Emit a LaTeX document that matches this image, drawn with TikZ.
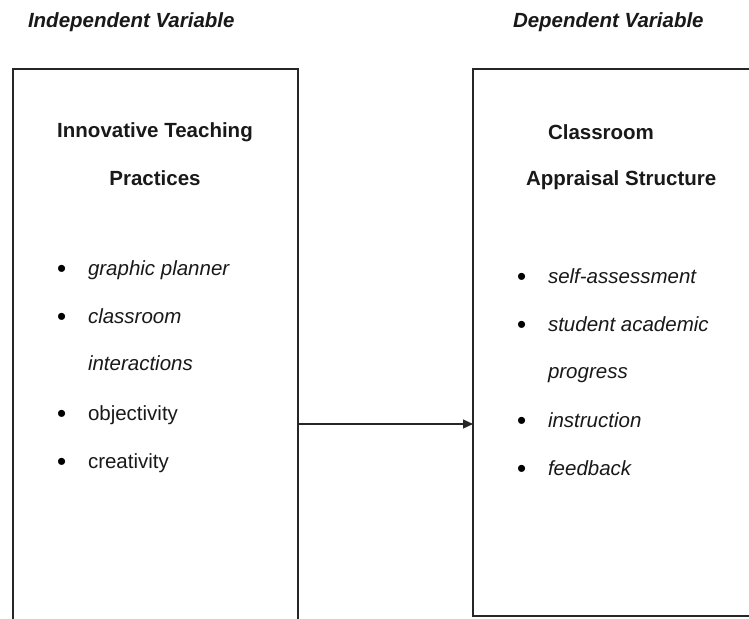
\documentclass[tikz,border=0pt]{standalone}
\usepackage{fontspec}
\setmainfont{Liberation Sans}
\usetikzlibrary{arrows.meta}
\begin{document}
\begin{tikzpicture}[x=1pt,y=-1pt,
  every node/.style={inner sep=0pt,outer sep=0pt,text=black!90,font=\fontsize{20.5}{24}\selectfont},
  frame/.style={draw=black!85,line width=1.4pt},
  hdr/.style={anchor=base west,font=\fontsize{20.5}{24}\selectfont\bfseries\itshape},
  ttl/.style={anchor=base,font=\fontsize{20.5}{24}\selectfont\bfseries},
  ttlw/.style={anchor=base west,font=\fontsize{20.5}{24}\selectfont\bfseries},
  item/.style={anchor=base west},
  itemi/.style={anchor=base west,font=\fontsize{20.5}{24}\selectfont\itshape},
  bul/.style={anchor=base west,text=black,font=\fontsize{26}{28}\selectfont},
  conn/.style={draw=black!85,line width=1.2pt,-{Triangle[length=10pt,width=9pt]}}]
\useasboundingbox (0,0) rectangle (749,618);
\fill[white] (0,0) rectangle (749,618);
% boxes
\draw[frame] (13,640) -- (13,69) -- (298,69) -- (298,640);
\draw[frame] (760,69) -- (473,69) -- (473,616) -- (760,616);
\coordinate (L) at (298,424);
\coordinate (R) at (473,424);
\draw[conn] (L) -- (R);
% headers
\node[hdr] (ih) at (28,28) {Independent Variable};
\node[hdr] (dh) at (513,28) {Dependent Variable};
% titles
\node[ttl] (t1) at (155,137) {Innovative Teaching};
\node[ttl] (t2) at (155,185) {Practices};
\node[ttlw] (t3) at (548,139) {Classroom};
\node[ttlw] (t4) at (526,185) {Appraisal Structure};
% left items
\node[bul] (b1) at (57,277) {•};
\node[itemi] (l1) at (88,275) {graphic planner};
\node[bul] (b2) at (57,325) {•};
\node[itemi] (l2) at (88,323) {classroom};
\node[itemi] (l3) at (88,370) {interactions};
\node[bul] (b3) at (57,422) {•};
\node[item] (l4) at (88,420) {objectivity};
\node[bul] (b4) at (57,470) {•};
\node[item] (l5) at (88,468) {creativity};
% right items
\node[bul] (c1) at (517,285) {•};
\node[itemi] (r1) at (548,283) {self-assessment};
\node[bul] (c2) at (517,333) {•};
\node[itemi] (r2) at (548,331) {student academic};
\node[itemi] (r3) at (548,378) {progress};
\node[bul] (c3) at (517,429) {•};
\node[itemi] (r4) at (548,427) {instruction};
\node[bul] (c4) at (517,477) {•};
\node[itemi] (r5) at (548,475) {feedback};
\end{tikzpicture}
\end{document}
